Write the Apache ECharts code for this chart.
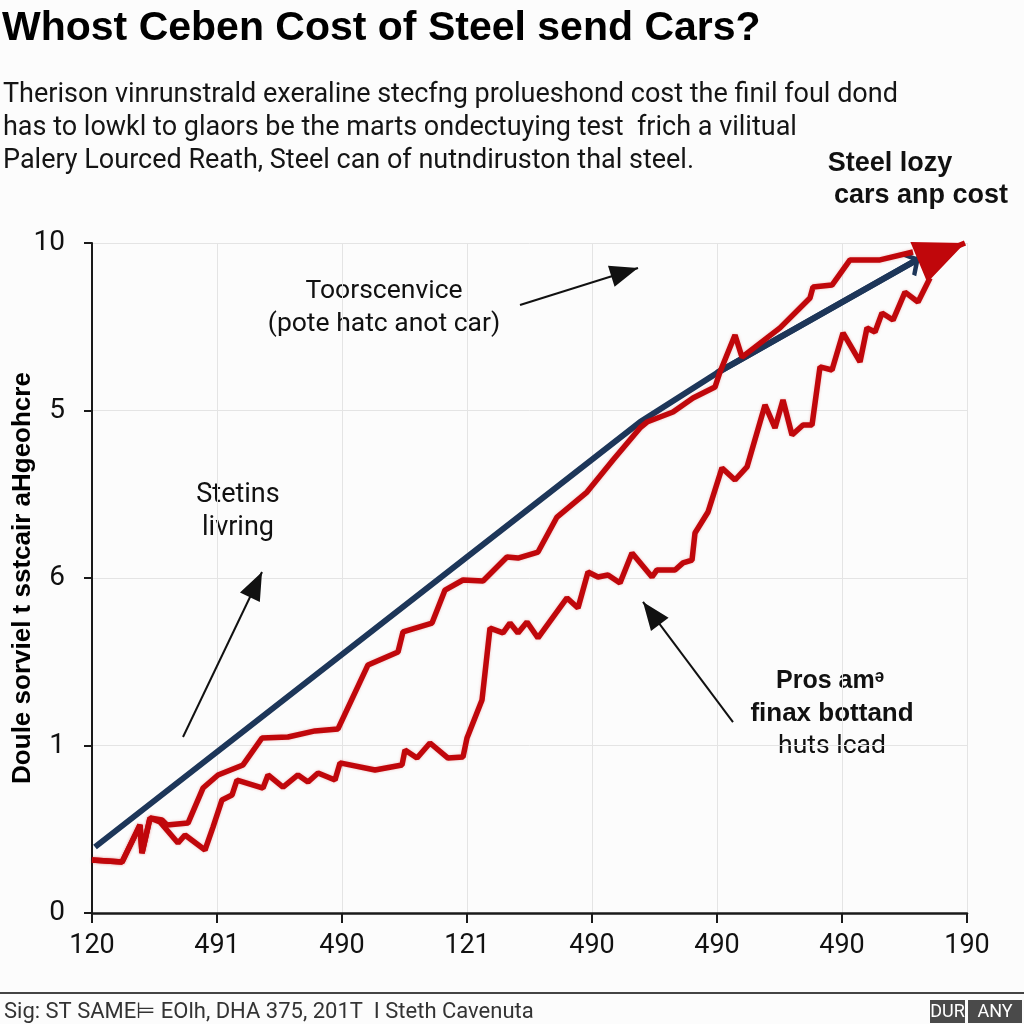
<!DOCTYPE html>
<html>
<head>
<meta charset="utf-8">
<script src="https://cdn.jsdelivr.net/npm/echarts@6/dist/echarts.min.js"></script>
<style>html,body{margin:0;padding:0;background:#fcfcfc;}#c{width:1024px;height:1024px;}</style>
</head>
<body>
<div id="c"></div>
<script>
// Tick labels (as printed on the reference)
const xTickLabels = ['120', '491', '490', '121', '490', '490', '490', '190'];
const yTickLabels = ['0', '1', '6', '5', '10'];

// Series values in axis units [x, y]
const trendLine = [[0.024, 0.394], [4.384, 2.931], [5.0, 3.224], [6.624, 3.910]];
const upperRed = [
  [0, 0.316], [0.24, 0.304], [0.384, 0.525], [0.4, 0.358], [0.464, 0.567], [0.56, 0.555],
  [0.6, 0.525], [0.768, 0.537], [0.888, 0.746], [1.008, 0.824], [1.208, 0.884], [1.36, 1.045],
  [1.568, 1.051], [1.784, 1.087], [1.968, 1.099], [2.208, 1.481], [2.448, 1.558], [2.488, 1.678],
  [2.72, 1.731], [2.824, 1.928], [2.968, 1.988], [3.128, 1.982], [3.32, 2.125], [3.408, 2.119],
  [3.568, 2.155], [3.72, 2.364], [3.96, 2.513], [4.168, 2.704], [4.384, 2.896], [4.44, 2.931],
  [4.648, 2.991], [4.808, 3.075], [4.984, 3.140], [5.024, 3.230], [5.144, 3.451], [5.2, 3.319],
  [5.504, 3.493], [5.744, 3.672], [5.768, 3.737], [5.92, 3.749], [6.064, 3.899], [6.304, 3.899],
  [6.568, 3.946]
];
const lowerRed = [
  [0, 0.316], [0.24, 0.304], [0.384, 0.525], [0.4, 0.358], [0.464, 0.567], [0.544, 0.543],
  [0.688, 0.418], [0.744, 0.466], [0.904, 0.376], [0.968, 0.513], [1.04, 0.675], [1.12, 0.704],
  [1.16, 0.794], [1.368, 0.746], [1.408, 0.824], [1.528, 0.752], [1.648, 0.824], [1.728, 0.782],
  [1.808, 0.836], [1.944, 0.794], [1.984, 0.896], [2.264, 0.854], [2.48, 0.884], [2.504, 0.973],
  [2.6, 0.925], [2.704, 1.015], [2.848, 0.925], [2.968, 0.931], [3.0, 1.045], [3.12, 1.272],
  [3.184, 1.701], [3.288, 1.672], [3.344, 1.731], [3.408, 1.672], [3.48, 1.737], [3.568, 1.642],
  [3.8, 1.881], [3.888, 1.821], [3.968, 2.036], [4.048, 2.006], [4.128, 2.018], [4.224, 1.970],
  [4.32, 2.149], [4.48, 2.006], [4.52, 2.048], [4.664, 2.048], [4.728, 2.090], [4.8, 2.107],
  [4.824, 2.269], [4.928, 2.394], [5.04, 2.657], [5.144, 2.585], [5.24, 2.663], [5.384, 3.033],
  [5.464, 2.896], [5.528, 3.063], [5.6, 2.854], [5.688, 2.913], [5.76, 2.913], [5.824, 3.260],
  [5.92, 3.242], [6.008, 3.463], [6.144, 3.290], [6.2, 3.493], [6.264, 3.469], [6.32, 3.582],
  [6.408, 3.540], [6.504, 3.707], [6.608, 3.648], [6.704, 3.791]
];
// red arrowhead: base centre and tip
const redArrow = [[6.64, 3.893], [6.984, 4.0]];
// Annotation arrows: [from, to]
const annotationArrows = [
  [[3.424, 3.630], [4.368, 3.851]],
  [[0.728, 1.051], [1.36, 2.036]],
  [[5.128, 1.140], [4.408, 1.857]]
];

// Text content
const titleText = 'Whost Ceben Cost of Steel send Cars?';
const subtitleLines = [
  'Therison vinrunstrald exeraline stecfng prolueshond cost the finil foul dond',
  'has to lowkl to glaors be the marts ondectuying test  frich a vilitual',
  'Palery Lourced Reath, Steel can of nutndiruston thal steel.'
];
const cornerLabel = ['Steel lozy', 'cars anp cost'];
const yAxisTitle = 'Doule sorviel t sstcair aHgeohcre';
const noteTop = ['Toorscenvice', '(pote hatc anot car)'];
const noteLeft = ['Stetins', 'livring'];
const noteRight = ['Pros am\u1d4a', 'finax bottand', 'huts lcad'];
const footerText = 'Sig: ST SAME\u22a8 EOlh, DHA 375, 201T  I Steth Cavenuta';
const badges = ['DUR', 'ANY'];

const RED = '#c0070b';
const BLUE = '#1d3659';
// symbols: tip at centre of bounding box (dummy point extends box)
const TRI = 'path://M10,0 L20,20 L0,20 Z M10,-20 L10.01,-20 Z';
const CHEVRON = 'path://M10,0 L20,9 L17.5,11 L10,4.5 L2.5,11 L0,9 Z M10,-11 L10.01,-11 Z';

const chart = echarts.init(document.getElementById('c'), null, {renderer: 'canvas'});

function txt(text, x, y, opts) {
  return {
    type: 'text', x: x, y: y, silent: true,
    style: Object.assign({
      text: text, fill: '#111', textVerticalAlign: 'middle', textAlign: 'left',
      fontFamily: 'Roboto', fontSize: 24, fontWeight: 'normal'
    }, opts || {})
  };
}

const graphics = [
  txt(titleText, 2, 29, {fontFamily: 'Liberation Sans', fontWeight: 'bold', fontSize: 41, fill: '#000'}),
  txt(subtitleLines[0], 3, 95, {fontSize: 27, fill: '#151515'}),
  txt(subtitleLines[1], 3, 128, {fontSize: 27, fill: '#151515'}),
  txt(subtitleLines[2], 3, 161, {fontSize: 27, fill: '#151515'}),
  txt(cornerLabel[0], 890, 164, {textAlign: 'center', fontFamily: 'Liberation Sans', fontWeight: 'bold', fontSize: 27}),
  txt(cornerLabel[1], 921, 196, {textAlign: 'center', fontFamily: 'Liberation Sans', fontWeight: 'bold', fontSize: 27}),
  txt(noteTop[0], 384, 291, {textAlign: 'center', fontSize: 26.5}),
  txt(noteTop[1], 384, 324, {textAlign: 'center', fontSize: 26.5}),
  txt(noteLeft[0], 238, 495, {textAlign: 'center', fontSize: 27}),
  txt(noteLeft[1], 238, 528, {textAlign: 'center', fontSize: 27}),
  txt(noteRight[0], 830, 681, {textAlign: 'center', fontFamily: 'Liberation Sans', fontWeight: 'bold', fontSize: 25}),
  txt(noteRight[1], 832, 714, {textAlign: 'center', fontFamily: 'Liberation Sans', fontWeight: 'bold', fontSize: 26}),
  txt(noteRight[2], 832, 746, {textAlign: 'center', fontSize: 26.5}),
  {type: 'line', silent: true, shape: {x1: 0, y1: 993, x2: 1024, y2: 993}, style: {stroke: '#444', lineWidth: 2}},
  txt(footerText, 4, 1012, {fontFamily: 'Roboto', fontSize: 22, fill: '#333'}),
  {type: 'rect', silent: true, shape: {x: 930, y: 1000, width: 35, height: 23}, style: {fill: '#4a4a4a'}},
  {type: 'rect', silent: true, shape: {x: 968, y: 1000, width: 54, height: 23}, style: {fill: '#4a4a4a'}},
  txt(badges[0], 947.5, 1012, {textAlign: 'center', fontFamily: 'Roboto', fontSize: 18, fill: '#fff'}),
  txt(badges[1], 995, 1012, {textAlign: 'center', fontFamily: 'Roboto', fontSize: 18, fill: '#fff'})
];

const option = {
  backgroundColor: '#fcfcfc',
  animation: false,
  grid: {left: 92, right: 57, top: 243, bottom: 111, containLabel: false, outerBoundsMode: 'none'},
  xAxis: {
    type: 'value', min: 0, max: 7, interval: 1,
    axisLine: {show: true, onZero: false, lineStyle: {color: '#1a1a1a', width: 2.5}},
    axisTick: {show: true, length: 10, lineStyle: {color: '#1a1a1a', width: 2}},
    axisLabel: {margin: 20, fontFamily: 'Roboto', fontSize: 27, color: '#111',
      formatter: v => xTickLabels[Math.round(v)]},
    splitLine: {show: true, lineStyle: {color: '#e4e4e4', width: 1}}
  },
  yAxis: {
    type: 'value', min: 0, max: 4, interval: 1,
    name: yAxisTitle, nameLocation: 'middle', nameRotate: 90, nameGap: 56, nameMoveOverlap: false,
    nameTextStyle: {fontFamily: 'Liberation Sans', fontWeight: 'bold', fontSize: 26, color: '#000'},
    axisLine: {show: true, onZero: false, lineStyle: {color: '#1a1a1a', width: 2}},
    axisTick: {show: true, length: 8, lineStyle: {color: '#1a1a1a', width: 2}},
    axisLabel: {margin: 27, fontFamily: 'Roboto', fontSize: 28, color: '#111',
      formatter: v => yTickLabels[Math.round(v)]},
    splitLine: {show: true, lineStyle: {color: '#e4e4e4', width: 1}}
  },
  graphic: graphics,
  series: [
    {
      name: 'trend', type: 'line', data: trendLine, showSymbol: false, silent: true, clip: false,
      lineStyle: {color: BLUE, width: 6}, z: 3,
      markLine: {
        silent: true, animation: false, symbol: ['none', CHEVRON], symbolSize: [28, 30],
        label: {show: false}, lineStyle: {type: 'solid', color: BLUE, width: 6},
        data: [[{coord: trendLine[trendLine.length - 2]}, {coord: trendLine[trendLine.length - 1]}]]
      }
    },
    {
      name: 'lower', type: 'line', data: lowerRed, showSymbol: false, silent: true, clip: false,
      lineStyle: {color: RED, width: 5.5, shadowColor: 'rgba(200,0,0,0.25)', shadowBlur: 3}, z: 4
    },
    {
      name: 'upper', type: 'line', data: upperRed, showSymbol: false, silent: true, clip: false,
      lineStyle: {color: RED, width: 5.5, shadowColor: 'rgba(200,0,0,0.25)', shadowBlur: 3}, z: 5,
      markLine: {
        silent: true, animation: false, symbol: ['none', TRI], symbolSize: [44, 100],
        label: {show: false}, lineStyle: {type: 'solid', color: RED, width: 5.5},
        data: [[{coord: redArrow[0]}, {coord: redArrow[1]}]]
      }
    },
    {
      name: 'notes', type: 'line', data: [], silent: true, clip: false, z: 6,
      markLine: {
        silent: true, animation: false, symbol: ['none', TRI], symbolSize: [22, 56],
        label: {show: false}, lineStyle: {type: 'solid', color: '#111', width: 2},
        data: annotationArrows.map(a => [{coord: a[0]}, {coord: a[1]}])
      }
    }
  ]
};
chart.setOption(option);
</script>
</body>
</html>
